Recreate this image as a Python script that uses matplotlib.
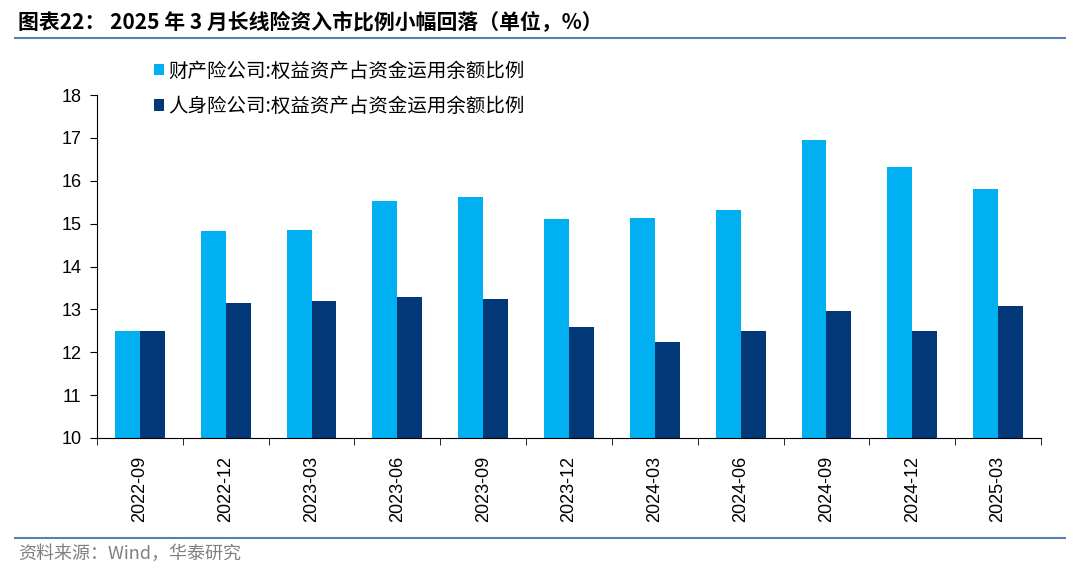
import numpy as np
import matplotlib
matplotlib.use("Agg")
import matplotlib.pyplot as plt
from matplotlib.lines import Line2D

plt.rcParams['font.family'] = ['Liberation Sans', 'Noto Sans CJK SC', 'DejaVu Sans']

# -----data-----
dates = ["2022-09", "2022-12", "2023-03", "2023-06", "2023-09", "2023-12",
         "2024-03", "2024-06", "2024-09", "2024-12", "2025-03"]
property_ins = [12.50, 14.82, 14.86, 15.53, 15.63, 15.10, 15.13, 15.32, 16.96, 16.32, 15.80]
life_ins = [12.50, 13.15, 13.20, 13.29, 13.24, 12.58, 12.25, 12.49, 12.96, 12.49, 13.09]
labels = ["财产险公司:权益资产占资金运用余额比例", "人身险公司:权益资产占资金运用余额比例"]

light = "#00B0F0"
dark = "#023778"
cjk = ['Noto Sans CJK SC', 'DejaVu Sans']

fig = plt.figure(figsize=(10.78, 5.78), dpi=100)
ax = fig.add_axes([97 / 1078, 1 - 438 / 578, (1041 - 97) / 1078, (438 - 95) / 578])

x = np.arange(len(dates))
w = 0.29
ax.bar(x - w / 2, property_ins, w, color=light, label=labels[0])
ax.bar(x + w / 2, life_ins, w, color=dark, label=labels[1])

ax.set_ylim(10, 18)
ax.set_xlim(-0.5, len(dates) - 0.5)
ax.set_yticks(range(10, 19))
ax.tick_params(axis='y', labelsize=13, length=5, direction='out', pad=6)
ax.set_xticks(x)
ax.set_xticklabels(dates, rotation=90, fontsize=13)
ax.tick_params(axis='x', which='major', length=0, pad=13)
ax.set_xticks(np.arange(-0.5, len(dates)), minor=True)
ax.tick_params(axis='x', which='minor', length=5, direction='out')

for s in ['top', 'right']:
    ax.spines[s].set_visible(False)
ax.spines['left'].set_color('black')
ax.spines['bottom'].set_color('black')

leg = fig.legend(loc='upper left', bbox_to_anchor=(136 / 1078, 1 - 43 / 578),
                 frameon=False, handlelength=0.55, handleheight=0.55,
                 handletextpad=0.2, labelspacing=0.75, prop={'family': cjk, 'size': 14})

# title and footer
fig.text(18 / 1078, 1 - 22 / 578, "图表22： 2025 年 3 月长线险资入市比例小幅回落（单位，%）",
         fontsize=15, fontweight='bold', family=cjk, va='center', ha='left')
fig.add_artist(Line2D([15 / 1078, 1065 / 1078], [1 - 38 / 578] * 2, color="#5B7FAF", lw=1.5))
fig.add_artist(Line2D([15 / 1078, 1065 / 1078], [1 - 538 / 578] * 2, color="#5B7FAF", lw=1.5))
fig.text(18 / 1078, 1 - 554 / 578, "资料来源：Wind，华泰研究", fontsize=13, color="#808080",
         family=cjk, va='center', ha='left')

fig.savefig("out.png", dpi=100)
